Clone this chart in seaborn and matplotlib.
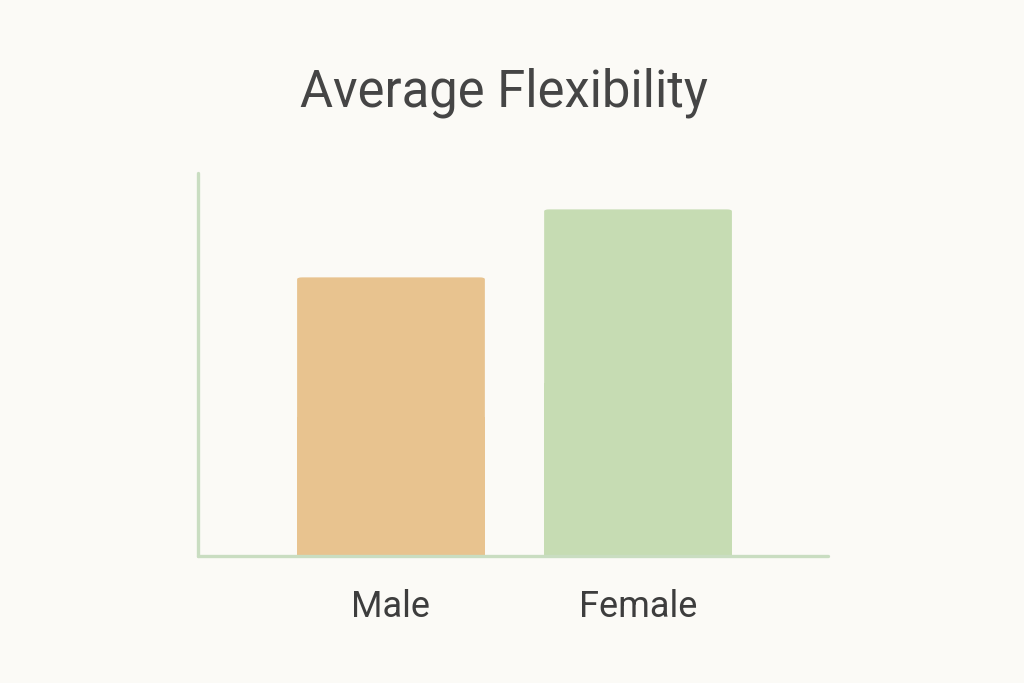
import matplotlib
matplotlib.use("Agg")
import matplotlib.pyplot as plt
import seaborn as sns
import pandas as pd
from matplotlib.patches import FancyBboxPatch

categories = ["Male", "Female"]
values = [29.1, 36.2]
colors = ["#E8C38F", "#C6DCB3"]
title = "Average Flexibility"

sns.set_theme(style="white")
plt.rcParams['font.family'] = ['Roboto', 'DejaVu Sans']

bg = "#FBFAF6"
fig = plt.figure(figsize=(10.24, 6.83), dpi=100, facecolor=bg)
ax = fig.add_axes([0.1934, 0.1859, 0.6152, 0.5608], facecolor=bg)

df = pd.DataFrame({"cat": categories, "val": values})
sns.barplot(data=df, x="cat", y="val", hue="cat", palette=colors, width=0.76,
            legend=False, ax=ax, saturation=1)

# rounded bar tops
for p in list(ax.patches):
    x, y = p.get_x(), p.get_y()
    w, h = p.get_width(), p.get_height()
    fc = p.get_facecolor()
    p.set_visible(False)
    rb = FancyBboxPatch((x, y), w, h, boxstyle="round,pad=0,rounding_size=0.02",
                        mutation_aspect=10, facecolor=fc, edgecolor="none")
    ax.add_patch(rb)
    ax.add_patch(plt.Rectangle((x, y), w, h * 0.5, facecolor=fc, edgecolor="none"))

ax.set_xlim(-0.781, 1.769)
ax.set_ylim(0, 40)
ax.set_xlabel("")
ax.set_ylabel("")
ax.set_yticks([])
ax.tick_params(axis="x", length=0, pad=24, labelsize=26, labelcolor="#3d3d3d")

for s in ["top", "right"]:
    ax.spines[s].set_visible(False)
for s in ["left", "bottom"]:
    ax.spines[s].set_color("#C9DDC1")
    ax.spines[s].set_linewidth(2.4)
    ax.spines[s].set_capstyle("round")

fig.text(0.492, 1 - 106 / 683, title, ha="center", va="baseline", fontsize=36.5, color="#454545")

fig.savefig("out.png", dpi=100, facecolor=bg)
